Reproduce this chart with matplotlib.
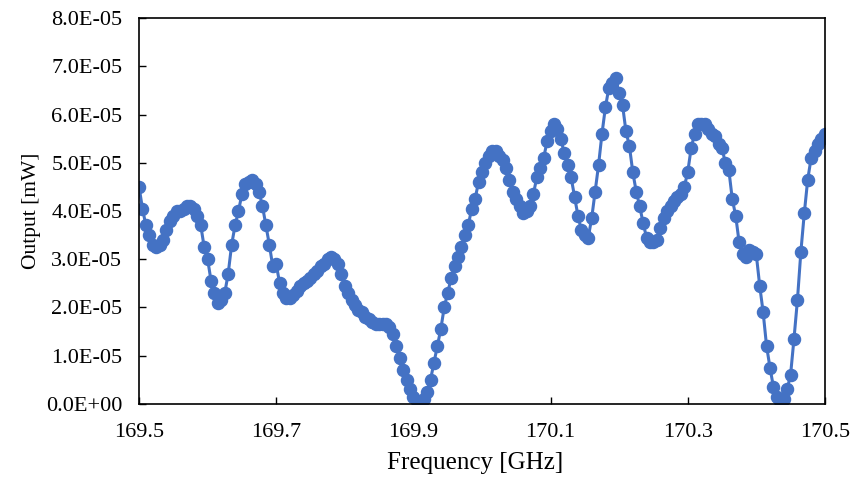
import numpy as np
import matplotlib
matplotlib.use("Agg")
import matplotlib.pyplot as plt
from matplotlib.ticker import FuncFormatter, MultipleLocator

# frequency sweep: 169.5 .. 170.5 GHz, 0.005 GHz step
f_start, f_step = 169.5, 0.005

# output power, in units of 1e-5 mW
output_e5 = [
    4.5, 4.05, 3.7, 3.5, 3.3, 3.25, 3.3, 3.4, 3.6, 3.8,          # 169.500-
    3.9, 4.0, 4.0, 4.05, 4.1, 4.1, 4.05, 3.9, 3.7, 3.25,         # 169.550-
    3.0, 2.55, 2.3, 2.1, 2.15, 2.3, 2.7, 3.3, 3.7, 4.0,          # 169.600-
    4.35, 4.55, 4.6, 4.65, 4.55, 4.4, 4.1, 3.7, 3.3, 2.85,       # 169.650-
    2.9, 2.5, 2.3, 2.2, 2.2, 2.25, 2.35, 2.45, 2.5, 2.55,        # 169.700-
    2.6, 2.7, 2.75, 2.85, 2.9, 3.0, 3.05, 3.0, 2.9, 2.7,         # 169.750-
    2.45, 2.3, 2.15, 2.05, 1.95, 1.9, 1.8, 1.75, 1.7, 1.65,      # 169.800-
    1.65, 1.65, 1.65, 1.6, 1.45, 1.2, 0.95, 0.7, 0.5, 0.3,       # 169.850-
    0.15, 0.05, 0.02, 0.1, 0.25, 0.5, 0.85, 1.2, 1.55, 2.0,      # 169.900-
    2.3, 2.6, 2.85, 3.05, 3.25, 3.5, 3.7, 4.05, 4.25, 4.6,       # 169.950-
    4.8, 5.0, 5.15, 5.25, 5.25, 5.15, 5.05, 4.9, 4.65, 4.4,      # 170.000-
    4.25, 4.1, 3.95, 4.0, 4.1, 4.35, 4.7, 4.9, 5.1, 5.45,        # 170.050-
    5.65, 5.8, 5.7, 5.5, 5.2, 4.95, 4.7, 4.3, 3.9, 3.6,          # 170.100-
    3.5, 3.45, 3.85, 4.4, 4.95, 5.6, 6.15, 6.55, 6.65, 6.75,     # 170.150-
    6.45, 6.2, 5.65, 5.35, 4.8, 4.4, 4.1, 3.75, 3.45, 3.35,      # 170.200-
    3.35, 3.4, 3.65, 3.85, 4.0, 4.1, 4.2, 4.3, 4.35, 4.5,        # 170.250-
    4.8, 5.3, 5.6, 5.8, 5.8, 5.8, 5.7, 5.6, 5.55, 5.4,           # 170.300-
    5.3, 5.0, 4.85, 4.25, 3.9, 3.35, 3.1, 3.05, 3.2, 3.15,       # 170.350-
    3.1, 2.45, 1.9, 1.2, 0.75, 0.35, 0.15, 0.05, 0.1, 0.3,       # 170.400-
    0.6, 1.35, 2.15, 3.15, 3.95, 4.65, 5.1, 5.25, 5.4, 5.5,      # 170.450-
    5.6,                                                         # 170.500
]

freq = f_start + f_step * np.arange(len(output_e5))
output = np.array(output_e5) * 1e-5

plt.rcParams["font.family"] = ["Liberation Serif", "DejaVu Serif"]

fig = plt.figure(figsize=(8.53, 4.79), dpi=100)
ax = fig.add_axes([0.163, 0.157, 0.804, 0.805])

ax.plot(freq, output, color="#4472C4", linewidth=2.2, marker="o",
        markersize=8.7, markerfacecolor="#4472C4", markeredgecolor="#4472C4")

ax.set_xlim(169.5, 170.5)
ax.set_ylim(0, 8e-5)
ax.set_xticks([169.5, 169.7, 169.9, 170.1, 170.3, 170.5])
ax.xaxis.set_major_formatter(FuncFormatter(lambda v, p: f"{v:.1f}"))
ax.yaxis.set_major_locator(MultipleLocator(1e-5))
ax.yaxis.set_major_formatter(FuncFormatter(lambda v, p: f"{v:.1E}"))

ax.tick_params(direction="in", length=5, width=1, labelsize=16, colors="black")
ax.tick_params(axis="x", pad=14)
ax.tick_params(axis="y", pad=12)
for s in ax.spines.values():
    s.set_linewidth(1.2)
    s.set_color("black")

ax.set_xlabel("Frequency [GHz]", fontsize=18)
ax.set_ylabel("Output [mW]", fontsize=15.5)
ax.xaxis.set_label_coords(0.49, -0.125)
ax.yaxis.set_label_coords(-0.143, 0.5)

fig.savefig("out.png", dpi=100)
